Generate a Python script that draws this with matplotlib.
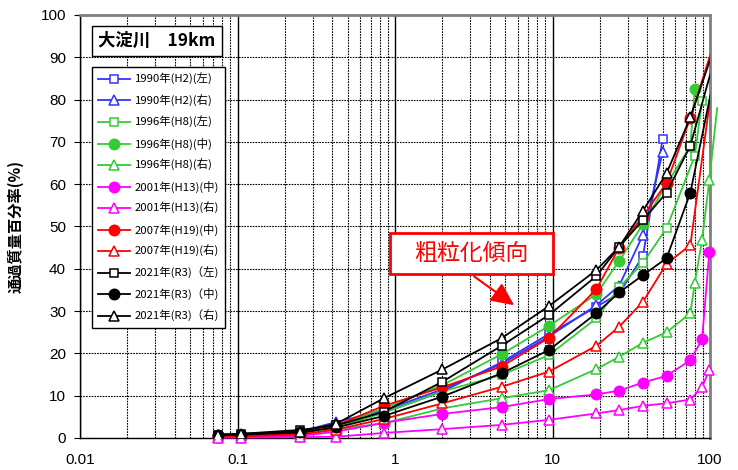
import numpy as np
import matplotlib.pyplot as plt
from matplotlib.patches import Rectangle
from matplotlib.ticker import FixedLocator, NullFormatter

plt.rcParams['font.family'] = ['Liberation Sans', 'Noto Sans CJK JP', 'DejaVu Sans']

# sieve sizes (mm) and passing percentages
x_h2 = [0.075, 0.106, 0.25, 0.425, 0.85, 2, 4.75, 9.5, 19, 26.5, 37.5, 50]
h2_left = [0.5, 0.7, 1.5, 3.0, 6.0, 11.0, 17.9, 24.6, 31.0, 34.2, 43.0, 70.7]
h2_right = [0.5, 0.7, 1.5, 3.8, 6.5, 11.5, 17.5, 24.0, 31.4, 36.0, 48.0, 67.5]

x_h8_left = [0.075, 0.106, 0.25, 0.425, 0.85, 2, 4.75, 9.5, 19, 26.5, 37.5, 53, 80, 89]
h8_left = [0.4, 0.6, 1.2, 2.5, 6.0, 11.0, 14.9, 19.6, 28.3, 35.6, 41.4, 49.6, 66.7, 79.7]
x_h8_mid = [0.075, 0.106, 0.25, 0.425, 0.85, 2, 4.75, 9.5, 19, 26.5, 37.5, 53, 75, 80]
h8_mid = [0.5, 0.7, 1.5, 3.0, 7.0, 12.5, 19.8, 26.5, 34.0, 41.9, 50.5, 60.0, 69.0, 82.5]
x_h8_right = [0.075, 0.106, 0.25, 0.425, 0.85, 2, 4.75, 9.5, 19, 26.5, 37.5, 53, 75, 80, 89, 99, 111]
h8_right = [0.3, 0.5, 1.0, 2.0, 3.5, 7.0, 9.4, 11.3, 16.3, 19.2, 22.5, 25.0, 29.5, 36.6, 46.8, 61.0, 78.0]

x_h13 = [0.075, 0.106, 0.25, 0.425, 0.85, 2, 4.75, 9.5, 19, 26.5, 37.5, 53, 75, 89, 99]
h13_mid = [0.2, 0.3, 0.5, 1.5, 3.6, 5.7, 7.3, 9.2, 10.3, 11.2, 13.1, 14.7, 18.4, 23.3, 44.0]
h13_right = [0.1, 0.1, 0.2, 0.3, 1.2, 2.1, 3.1, 4.3, 5.8, 6.6, 7.6, 8.2, 9.1, 12.0, 16.1]

x_h19 = [0.075, 0.106, 0.25, 0.425, 0.85, 2, 4.75, 9.5, 19, 26.5, 37.5, 53, 75, 120]
h19_mid = [0.5, 0.6, 1.0, 3.0, 7.6, 12.0, 16.9, 23.7, 35.2, 45.0, 52.5, 60.3, 75.7, 99.7]
h19_right = [0.3, 0.4, 0.8, 2.0, 4.5, 8.2, 12.1, 15.7, 21.8, 26.3, 32.2, 41.2, 45.6, 101.5]

x_r3 = [0.075, 0.106, 0.25, 0.425, 0.85, 2, 4.75, 9.5, 19, 26.5, 37.5, 53, 75, 120]
r3_left = [0.8, 1.0, 1.9, 3.0, 6.2, 13.3, 21.8, 29.1, 38.3, 45.2, 51.5, 58.0, 69.1, 96.4]
r3_mid = [0.6, 0.8, 1.3, 2.5, 5.2, 9.8, 15.3, 20.8, 29.5, 34.4, 38.5, 42.5, 58.0, 94.9]
r3_right = [0.8, 1.0, 1.5, 3.4, 9.4, 16.2, 23.6, 31.2, 39.7, 45.2, 53.7, 62.6, 75.8, 97.9]

labels = ['1990年(H2)(左)', '1990年(H2)(右)', '1996年(H8)(左)', '1996年(H8)(中)',
          '1996年(H8)(右)', '2001年(H13)(中)', '2001年(H13)(右)', '2007年(H19)(中)',
          '2007年(H19)(右)', '2021年(R3)（左)', '2021年(R3)（中)', '2021年(R3)（右)']

BLUE = '#3333FF'
GREEN = '#33CC33'
PINK = '#FF00FF'
RED = '#FF0000'

# x, y, colour, marker, filled, clipped, last point drawn without marker
series = [
    (x_h2, h2_left, BLUE, 's', False, True, False),
    (x_h2, h2_right, BLUE, '^', False, True, False),
    (x_h8_left, h8_left, GREEN, 's', False, True, False),
    (x_h8_mid, h8_mid, GREEN, 'o', True, True, False),
    (x_h8_right, h8_right, GREEN, '^', False, False, True),
    (x_h13, h13_mid, PINK, 'o', True, False, False),
    (x_h13, h13_right, PINK, '^', False, False, False),
    (x_h19, h19_mid, RED, 'o', True, True, True),
    (x_h19, h19_right, RED, '^', False, True, True),
    (x_r3, r3_left, 'black', 's', False, True, True),
    (x_r3, r3_mid, 'black', 'o', True, True, True),
    (x_r3, r3_right, 'black', '^', False, True, True),
]

fig = plt.figure(figsize=(7.38, 4.70), dpi=100)
ax = fig.add_axes([0.1084, 0.0681, 0.8537, 0.9000])

for (xs, ys, col, mk, filled, clip, bare_end), lab in zip(series, labels):
    ms = 6 if mk == 's' else 7.5
    every = list(range(len(xs) - 1)) if bare_end else None
    ax.plot(xs, ys, color=col, lw=1.3, marker=mk, ms=ms, markevery=every,
            mfc=col if filled else 'white', mec=col, mew=1.1,
            label=lab, clip_on=clip, zorder=3)

ax.set_xscale('log')
ax.set_xlim(0.01, 100)
ax.set_ylim(0, 100)
ax.set_yticks(np.arange(0, 101, 10))
ax.xaxis.set_major_locator(FixedLocator([0.01, 0.1, 1, 10, 100]))
ax.set_xticklabels(['0.01', '0.1', '1', '10', '100'])
minors = [m * 10.0 ** e for e in range(-2, 2) for m in range(2, 10)]
ax.xaxis.set_minor_locator(FixedLocator(minors))
ax.xaxis.set_minor_formatter(NullFormatter())
ax.tick_params(axis='both', labelsize=11)
ax.tick_params(axis='y', length=4, direction='out', pad=6)
ax.tick_params(axis='x', which='both', length=0, pad=11)

ax.grid(which='major', axis='x', color='black', lw=1.0, ls='-')
ax.grid(which='minor', axis='x', color='black', lw=0.8, ls=(0, (1.5, 1)))
ax.grid(which='major', axis='y', color='black', lw=0.8, ls=(0, (1.5, 1)))
ax.set_axisbelow(True)

for side in ['left', 'bottom']:
    ax.spines[side].set_color('black')
    ax.spines[side].set_linewidth(1.0)
for side in ['top', 'right']:
    ax.spines[side].set_color('#808080')
    ax.spines[side].set_linewidth(2.0)

ax.set_ylabel('通過質量百分率(%)', fontsize=11, fontweight='bold',
              family=['Noto Sans CJK JP'], labelpad=12)

ax.text(0.122, 0.9385, '大淀川　19km', transform=ax.transAxes, fontsize=12.5,
        fontweight='bold', ha='center', va='center', family=['Noto Sans CJK JP'],
        bbox=dict(boxstyle='square,pad=0.35', fc='white', ec='black', lw=1.0),
        zorder=5)

leg = ax.legend(loc='upper left', bbox_to_anchor=(0.1247, 0.8574),
                bbox_transform=fig.transFigure, frameon=True, borderaxespad=0,
                fancybox=False, edgecolor='black', framealpha=1,
                handlelength=2.8, labelspacing=0.83, borderpad=0.53,
                handletextpad=0.4, prop={'family': ['Noto Sans CJK JP'], 'size': 8.2})
leg.get_frame().set_linewidth(1.0)
leg.set_zorder(6)

# coarsening annotation
ax.annotate('', xy=(5.9, 31.0), xytext=(3.07, 38.6),
            arrowprops=dict(arrowstyle='-|>,head_length=1.4,head_width=0.65',
                            color=RED, lw=1.5), zorder=6)
ax.add_patch(Rectangle((0.492, 0.388), 0.259, 0.097, transform=ax.transAxes,
                       fc='white', ec=RED, lw=2.0, zorder=6))
ax.text(0.6215, 0.4365, '粗粒化傾向', transform=ax.transAxes, fontsize=16.5,
        color=RED, ha='center', va='center', family=['Noto Sans CJK JP'], zorder=7)

fig.savefig('out.png', dpi=100)
